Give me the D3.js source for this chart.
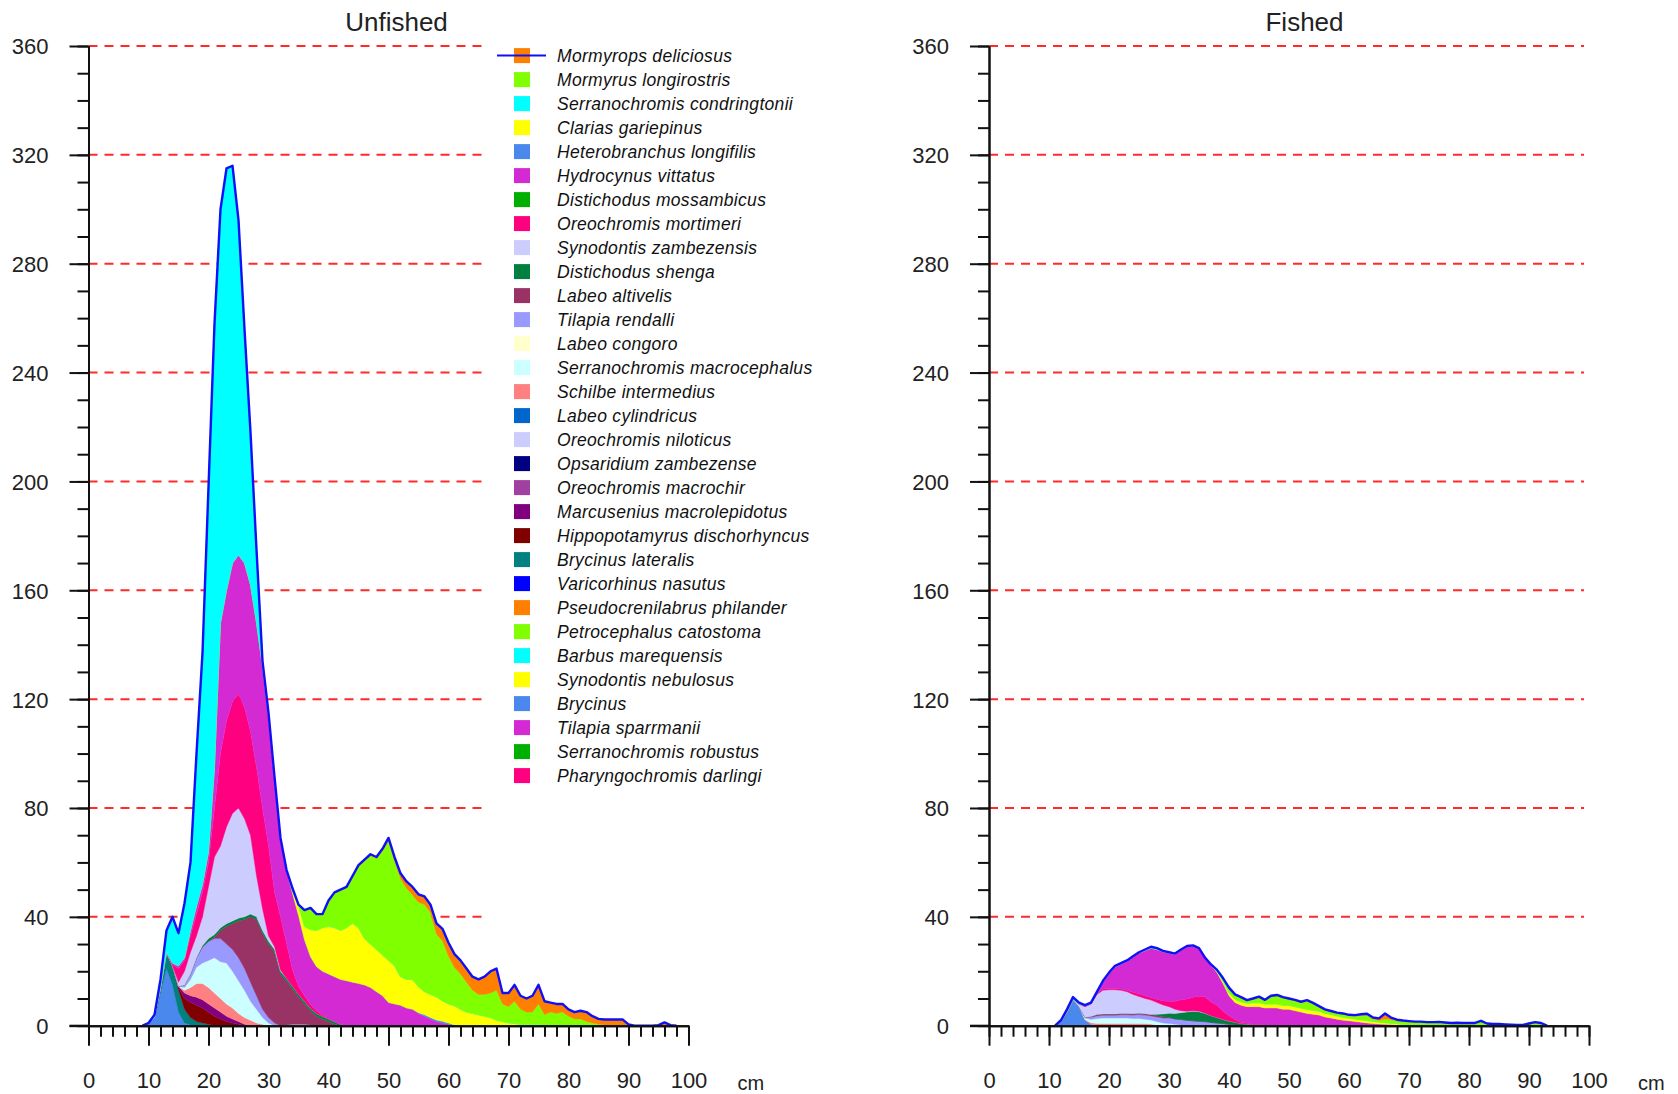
<!DOCTYPE html>
<html><head><meta charset="utf-8">
<script src="https://cdn.jsdelivr.net/npm/d3@7"></script>
<style>body{margin:0;background:#fff}svg{display:block}</style>
</head><body>
<svg id="chart" width="1678" height="1094"></svg>
<script>
// ---------- axes / categories ----------
const lengthClasses = d3.range(0, 101);          // 1-cm length classes
const yMinorTicks = d3.range(0, 361, 10);
const yMajorTicks = [0, 40, 80, 120, 160, 200, 240, 280, 320, 360];
const gridValues = [40, 80, 120, 160, 200, 240, 280, 320, 360];
const xMinorTicks = d3.range(0, 101, 2);
const xMajorTicks = [0, 10, 20, 30, 40, 50, 60, 70, 80, 90, 100];
const panelTitles = ["Unfished", "Fished"];
const xUnitLabel = "cm";

const species = [
  "Mormyrops deliciosus", "Mormyrus longirostris", "Serranochromis condringtonii",
  "Clarias gariepinus", "Heterobranchus longifilis", "Hydrocynus vittatus",
  "Distichodus mossambicus", "Oreochromis mortimeri", "Synodontis zambezensis",
  "Distichodus shenga", "Labeo altivelis", "Tilapia rendalli", "Labeo congoro",
  "Serranochromis macrocephalus", "Schilbe intermedius", "Labeo cylindricus",
  "Oreochromis niloticus", "Opsaridium zambezense", "Oreochromis macrochir",
  "Marcusenius macrolepidotus", "Hippopotamyrus dischorhyncus", "Brycinus lateralis",
  "Varicorhinus nasutus", "Pseudocrenilabrus philander", "Petrocephalus catostoma",
  "Barbus marequensis", "Synodontis nebulosus", "Brycinus", "Tilapia sparrmanii",
  "Serranochromis robustus", "Pharyngochromis darlingi"
];
const speciesColors = [
  "#ff8000", "#80ff00", "#00ffff", "#ffff00", "#4a88ee", "#d42ad4", "#00b000",
  "#ff0080", "#ccccff", "#008040", "#993366", "#9999ff", "#ffffcc", "#ccffff",
  "#ff8080", "#0066cc", "#ccccff", "#000080", "#a040a0", "#800080", "#800000",
  "#008080", "#0000ff", "#ff8000", "#80ff00", "#00ffff", "#ffff00", "#4a88ee",
  "#d42ad4", "#00b000", "#ff0080"
];

// ---------- Unfished: counts per 1-cm class, first value at length "from" ----------
const uMormyrops = { from: 45, counts: [0.5,0.5,0.5,0.5,0.8,1,1.5,2,2.5,3,3,3,3,4,4.5,5,5,5,5,5,5.5,6.5,8,8,4,5,6,5,5,6,7,5,3.5,3.5,3,2.5,2.5,3,3.5,2.5,2,2,2,2,2,0.5,0,0,0,0,0.2,1.2,0.2] };
const uMormyrus = { from: 34, counts: [1,0,6,8,6,5,9.5,13,15,15,17.4,22.5,28.5,32.5,33.5,38.2,44,38.5,36,33.5,31,31,32,30,23,22,17.5,14,13,11,8.5,7.5,8,9,11,6.5,6,8.2,5.5,4.5,4.5,7.5,3.7,5,4.5,5,3.5,2.5,2.5,1.5,1,0.5,0.3,0.3,0.3,0.3] };
const uSCondringtonii = { from: 11, counts: [1,3,8,17,12,20,25,56,85,134,163,152,155,146,123,86,56,27,2,1,0.5] };
const uClarias = { from: 34, counts: [1,4,5,10,13.3,16,17.5,18,18,19.5,21.6,20.5,17,16,15.5,15,15.5,14,10.5,10.5,11,9.5,8.5,8.5,8.5,7.5,7,7,6,5,4.5,4,3.5,3,2,1.5,1,0.8,0.5,0.5,0.5,0.5,0.3] };
const uHeterobranchus = { from: 55, counts: [0.3,0.5,0.5,0.6,0.6,0.5,0.3] };
const uHydrocynus = { from: 14, counts: [0.5,1,1,2,3,3,4,15,48,48,51,51,53,54,53,52,48,42,29,27,28,26,20.5,17.5,16.2,16,16.5,16.5,16.5,16.5,16,15.5,15,14,12.5,11,8.5,8,7.5,6.5,6,4.5,3.5,2.5,1.5,1,0.5] };
const uOMortimeri = { from: 14, counts: [0.5,5,4,6,8,9,9,18,34,39,41,42,41,38,40,37,33,20,19.5,13,6,3,2,1.5,1,0.5] };
const uSZambezensis = { from: 15, counts: [1.5,5,8,8,10.5,19,28.5,30,35.5,39.5,40.5,36,29,15,8,2,1,0.5] };
const uDShenga = { from: 19, counts: [0.5,1,1,1,1,1,1,1,1,1,1,1,1,1,1,1,1,1,1,1,1,1,1,0.5] };
const uLAltivelis = { from: 21, counts: [0.5,3,6.5,9.5,13.5,18,24,28,28,27,26,19,16,13,10,7.5,5,3.5,2.5,1.5,0.5] };
const uTRendalli = { from: 16, counts: [1,2,3.5,6,7,7,8.5,7,8,8.5,8,7,5,3,2,1] };
const uLCongoro = { from: 33, counts: [0.3,0.5,0.5,0.5,0.3] };
const uSMacrocephalus = { from: 16, counts: [1,3,6,7.5,10,13,13.5,15,13.5,12,10,7,5,2.5,1] };
const uSchilbe = { from: 16, counts: [1,3,5,6,6,5.5,5,4.5,4,3,2.5,2,1,0.5] };
const uMarcusenius = { from: 15, counts: [0.5,2,2.5,3,3,3,3,2.5,2,1.5,1,0.5] };
const uHippopotamyrus = { from: 15, counts: [1,4,5.5,6,5.5,4.5,3.5,2.5,1.5,1,0.5] };
const uBLateralis = { from: 12, counts: [2,6,7,8,5,2.7,1.5,1,0.5] };
const uBrycinus = { from: 10, counts: [1,3,12,21,15,5,1,0.3] };

// ---------- Fished ----------
const fMormyrops = { from: 44, counts: [0.2,0.3,0.3,0.3,0.3,0.3,0.3,0.3,0.3,0.3,0.3,0.3,0.3,0.3,0.3,0.3,0.3,0.4,0.4,0.5,0.5,0.8,2,0.8,0.4,0.3,0.3] };
const fMormyrus = { from: 38, counts: [0.5,1,1.8,1.8,1.7,1.1,1.4,1.9,1.2,2.7,3,2.7,2.2,2.2,2,3.1,2.4,1.5,1.1,1,0.9,1.1,0.9,1,1.6,2,0.9,0.6,1.4,1.3,1,1.2,1.1,1.5,1.5,1.3,1.3,1.4,1.2,1,1.1,1,1,1,1.8,0.8,0.6,0.6,0.5,0.4,0.3,0.3,0.8,1.3,1] };
const fSCondringtonii = { from: 12, counts: [0.5,1,1,0.5,0.3,0.3,0.3,0.4,0.4,0.4,0.3,0.3,0.3,0.3,0.4,0.5,0.5,0.3,0.3,0.3,0.2,0.2,0.2,0.2,0.2,0.2,0.2,0.2,0.2] };
const fClarias = { from: 38, counts: [0.3,0.8,1,1.2,1.3,1.3,1.4,1.5,1.5,1.5,1.5,1.5,1.5,1.5,1.5,1.5,1.5,1.5,1.4,1.3,1.2,1.1,1,1,0.9,0.9,0.8,0.7,0.6,0.5,0.5,0.4,0.3] };
const fHydrocynus = { from: 16, counts: [0.3,0.2,0.4,2.6,5.4,7.9,9.2,10.7,12.9,15,16.6,18.1,18.3,18.1,17.7,17.2,18.3,19.3,18.8,17.5,14.2,13.6,12,10.2,7.3,6.2,6.2,6.1,6.5,6.6,6.2,6.5,6.5,6,6,5.5,5,4.5,4.2,3.9,3.2,2.8,2.4,2,1.8,1.5,1.3,1,0.8,0.6,0.5,0.4,0.3] };
const fOMortimeri = { from: 18, counts: [0.3,0.5,0.5,0.5,0.5,0.5,0.8,1,1,1,1.2,1.5,2,3,4,4.5,5,5.5,6,5,4.5,3,2,1,0.5,0.3] };
const fSZambezensis = { from: 15, counts: [1,3.9,4.6,7.4,8.7,8.9,8.9,8.5,8,7.1,6.1,5.6,5.3,4.3,3.3,2.4,1.5,0.7,0.3,0.2,0.2,0.1] };
const fDShenga = { from: 28, counts: [0.5,1,1.5,2,2.5,3,3.5,3.5,3,2.5,2,1.5,1.2,1,0.8,0.6,0.5,0.4,0.3] };
const fLAltivelis = { from: 17, counts: [0.3,0.5,0.5,0.5,0.5,0.5,0.5,0.5,0.5,0.5,0.5,0.5,0.5,0.3] };
const fTRendalli = { from: 16, counts: [0.3,0.8,1,1,1,1,1.2,1.2,1.3,1.5,1.5,1.5,1.7,1.8,2,2,2,2,1.8,1.6,1.5,1.2,1,0.8,0.5,0.3] };
const fSMacrocephalus = { from: 16, counts: [0.5,1.2,1.8,2,2,2,2,2,1.8,1.8,1.6,1.5,1.2,1,0.8,0.5,0.3] };
const fSchilbe = { from: 16, counts: [0.3,0.6,0.8,0.8,0.8,0.8,0.8,0.8,0.8,0.8,0.8,0.6,0.3] };
const fBrycinus = { from: 12, counts: [1.5,5,9.5,7,2,0.5] };

const unfishedSeries = {
  "Mormyrops deliciosus": uMormyrops, "Mormyrus longirostris": uMormyrus,
  "Serranochromis condringtonii": uSCondringtonii, "Clarias gariepinus": uClarias,
  "Heterobranchus longifilis": uHeterobranchus, "Hydrocynus vittatus": uHydrocynus,
  "Oreochromis mortimeri": uOMortimeri, "Synodontis zambezensis": uSZambezensis,
  "Distichodus shenga": uDShenga, "Labeo altivelis": uLAltivelis,
  "Tilapia rendalli": uTRendalli, "Labeo congoro": uLCongoro,
  "Serranochromis macrocephalus": uSMacrocephalus, "Schilbe intermedius": uSchilbe,
  "Marcusenius macrolepidotus": uMarcusenius, "Hippopotamyrus dischorhyncus": uHippopotamyrus,
  "Brycinus lateralis": uBLateralis, "Brycinus": uBrycinus
};
const fishedSeries = {
  "Mormyrops deliciosus": fMormyrops, "Mormyrus longirostris": fMormyrus,
  "Serranochromis condringtonii": fSCondringtonii, "Clarias gariepinus": fClarias,
  "Hydrocynus vittatus": fHydrocynus, "Oreochromis mortimeri": fOMortimeri,
  "Synodontis zambezensis": fSZambezensis, "Distichodus shenga": fDShenga,
  "Labeo altivelis": fLAltivelis, "Tilapia rendalli": fTRendalli,
  "Serranochromis macrocephalus": fSMacrocephalus, "Schilbe intermedius": fSchilbe,
  "Brycinus": fBrycinus
};

// ---------- drawing ----------
const svg = d3.select("#chart");
svg.append("rect").attr("width", 1678).attr("height", 1094).attr("fill", "#fff");
const colorOf = d3.scaleOrdinal(species, speciesColors);
const FONT = "'Liberation Sans', Arial, sans-serif";
const OUTLINE = "#1010f8";

function buildTable(series) {
  return lengthClasses.map(cm => {
    const row = { cm };
    species.forEach(s => {
      const d = series[s];
      const v = d ? d.counts[cm - d.from] : undefined;
      row[s] = (v === undefined) ? 0 : v;
    });
    row.total = d3.sum(species, s => row[s]);
    return row;
  });
}

const panels = [
  { title: panelTitles[0], series: unfishedSeries, left: 88.5, titleX: 396.5, gridEnd: 486, legend: true },
  { title: panelTitles[1], series: fishedSeries, left: 989, titleX: 1304.5, gridEnd: 1584, legend: false }
];

const Y0 = 1025.7, YTOP = 46;

panels.forEach(p => {
  const x = d3.scaleLinear().domain([0, 100]).range([p.left, p.left + 600]);
  const y = d3.scaleLinear().domain([0, 360]).range([Y0, YTOP]);
  const g = svg.append("g");
  const table = buildTable(p.series);

  // gridlines
  g.selectAll("line.grid").data(gridValues).join("line")
    .attr("x1", x(0)).attr("x2", p.gridEnd)
    .attr("y1", d => y(d)).attr("y2", d => y(d))
    .attr("stroke", "#ff2a2a").attr("stroke-width", 2)
    .attr("stroke-dasharray", "9,7");

  // stacked areas: last legend entry at the bottom
  const stack = d3.stack().keys(species.slice().reverse());
  const layers = stack(table);
  const area = d3.area()
    .x(d => x(d.data.cm)).y0(d => y(d[0])).y1(d => y(d[1]))
    .curve(d3.curveLinear);
  g.selectAll("path.layer").data(layers.filter(l => d3.max(l, d => d[1] - d[0]) > 0)).join("path")
    .attr("d", area)
    .attr("fill", l => colorOf(l.key))
    .attr("stroke", l => colorOf(l.key)).attr("stroke-width", 0.4);

  // total outline
  const nz = table.map((r, i) => r.total > 0 ? i : -1).filter(i => i >= 0);
  const seg = table.slice(Math.max(0, nz[0] - 1), Math.min(table.length, nz[nz.length - 1] + 2));
  g.append("path").datum(seg)
    .attr("d", d3.line().x(d => x(d.cm)).y(d => y(d.total)))
    .attr("fill", "none").attr("stroke", OUTLINE).attr("stroke-width", 2.4)
    .attr("stroke-linejoin", "round");

  // y axis: minor + major
  const yMinor = g.append("g").attr("transform", `translate(${x(0)},0)`)
    .call(d3.axisLeft(y).tickValues(yMinorTicks).tickSize(11).tickFormat("").tickSizeOuter(0));
  const yMajor = g.append("g").attr("transform", `translate(${x(0)},0)`)
    .call(d3.axisLeft(y).tickValues(yMajorTicks).tickSize(19).tickPadding(21).tickSizeOuter(0));
  // x axis: minor + major
  const xMinor = g.append("g").attr("transform", `translate(0,${Y0})`)
    .call(d3.axisBottom(x).tickValues(xMinorTicks).tickSize(11).tickFormat("").tickSizeOuter(0));
  const xMajor = g.append("g").attr("transform", `translate(0,${Y0})`)
    .call(d3.axisBottom(x).tickValues(xMajorTicks).tickSize(20).tickSizeOuter(0));
  [yMinor, yMajor, xMinor, xMajor].forEach(a => {
    a.selectAll("line").attr("stroke", "#111").attr("stroke-width", 2);
    a.selectAll("path.domain").attr("stroke", "#111").attr("stroke-width", 2);
    a.selectAll("text").attr("font-family", FONT).attr("font-size", 22).attr("fill", "#222");
  });
  yMajor.selectAll("text").attr("dy", "0.36em");
  xMajor.selectAll("text").attr("y", 62).attr("dy", 0);
  // x axis extension to left of y axis
  g.append("line").attr("x1", x(0) - 19).attr("x2", x(0)).attr("y1", Y0).attr("y2", Y0)
    .attr("stroke", "#111").attr("stroke-width", 2);

  g.append("text").attr("x", x(100) + 49).attr("y", 1090)
    .attr("font-family", FONT).attr("font-size", 20).attr("fill", "#222").text(xUnitLabel);

  g.append("text").attr("x", p.titleX).attr("y", 31).attr("text-anchor", "middle")
    .attr("font-family", FONT).attr("font-size", 26).attr("fill", "#222").text(p.title);

  if (p.legend) {
    const rowY = i => 55.6 + i * 24;
    const lg = svg.append("g");
    const items = lg.selectAll("g.item").data(species).join("g")
      .attr("transform", (d, i) => `translate(0,${rowY(i)})`);
    items.append("rect").attr("x", 514).attr("y", -7.5).attr("width", 16).attr("height", 15)
      .attr("fill", d => colorOf(d));
    items.append("text").attr("x", 557).attr("y", 6.5)
      .attr("font-family", FONT).attr("font-size", 17.5).attr("font-style", "italic")
      .attr("letter-spacing", 0.3)
      .attr("fill", "#111").text(d => d);
    lg.append("line").attr("x1", 497).attr("x2", 546).attr("y1", rowY(0)).attr("y2", rowY(0))
      .attr("stroke", OUTLINE).attr("stroke-width", 2);
  }
});
</script>
</body></html>
